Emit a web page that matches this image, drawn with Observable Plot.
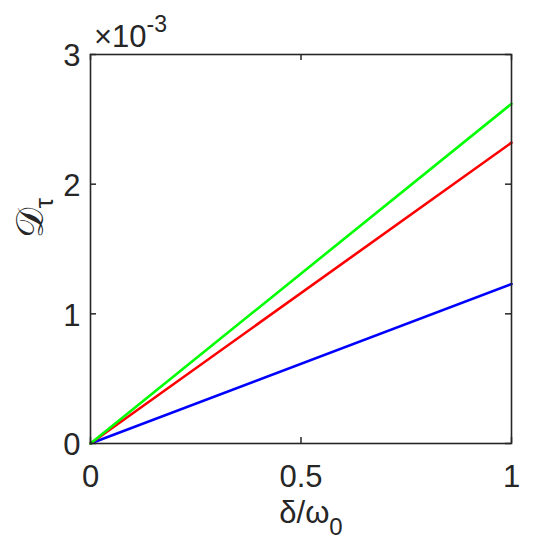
<!DOCTYPE html>
<html>
<head>
<meta charset="utf-8">
<script src="https://cdn.jsdelivr.net/npm/d3@7"></script>
<script src="https://cdn.jsdelivr.net/npm/@observablehq/plot@0.6"></script>
<style>
  body { margin: 0; background: #fff; }
  #chart svg { display: block; }
</style>
</head>
<body>
<div id="chart"></div>
<script>
// x: δ/ω0 ; y: D_τ
const xVals = [0, 1];
const blueVals = [0, 0.00123];
const redVals = [0, 0.00232];
const greenVals = [0, 0.00262];
const seriesNames = ["s1", "s2", "s3"];
const seriesColors = ["#0000ff", "#ff0000", "#00ff00"];
const xTicks = [0, 0.5, 1];
const xTickLabels = ["0", "0.5", "1"];
const yTicks = [0, 0.001, 0.002, 0.003];
const yTickLabels = ["0", "1", "2", "3"];

const seriesVals = [blueVals, redVals, greenVals];
const rows = [];
seriesNames.forEach((s, i) => xVals.forEach((x, j) => rows.push({series: s, x, y: seriesVals[i][j]})));

const W = 536, H = 550;
const mL = 90, mR = 25, mT = 54, mB = 107;
const innerH = H - mT - mB, innerW = W - mL - mR;
const tl = 6;
const font = "Liberation Sans, Arial, sans-serif";
const ink = "#262626";

const plot = Plot.plot({
  width: W, height: H,
  marginLeft: mL, marginRight: mR, marginTop: mT, marginBottom: mB,
  style: {fontFamily: font, fontSize: "31px", color: ink, background: "#fff"},
  x: {domain: [0, 1], label: null},
  y: {domain: [0, 0.003], label: null},
  color: {domain: seriesNames, range: seriesColors},
  marks: [
    Plot.axisX(xTicks, {anchor: "bottom", tickSize: 0, tickPadding: 21, tickFormat: (d) => xTickLabels[xTicks.indexOf(d)], fontSize: 31, fill: ink}),
    Plot.axisY(yTicks, {anchor: "left", tickSize: 0, tickPadding: 10, tickFormat: (d) => yTickLabels[yTicks.indexOf(d)], fontSize: 31, fill: ink, dy: 2}),
    Plot.lineY(rows, {x: "x", y: "y", stroke: "series", strokeWidth: 2.6}),
    Plot.tickX(xTicks, {x: d => d, insetTop: innerH - tl, stroke: ink, strokeWidth: 1.5}),
    Plot.tickX(xTicks, {x: d => d, insetBottom: innerH - tl, stroke: ink, strokeWidth: 1.5}),
    Plot.tickY(yTicks, {y: d => d, insetRight: innerW - tl, stroke: ink, strokeWidth: 1.5}),
    Plot.tickY(yTicks, {y: d => d, insetLeft: innerW - tl, stroke: ink, strokeWidth: 1.5}),
    Plot.frame({stroke: ink, strokeWidth: 1.6})
  ]
});

const svg = d3.select(plot);
// exponent label
const ex = svg.append("text")
  .attr("x", 94).attr("y", 47)
  .style("text-anchor", "start")
  .style("font-family", font).style("font-size", "31px").style("fill", ink);
ex.append("tspan").text("×10");
ex.append("tspan").attr("dy", -15).style("font-size", "23px").text("-3");

// x label
const xl = svg.append("text")
  .attr("x", 311).attr("y", 523)
  .style("text-anchor", "middle")
  .style("font-family", font).style("font-size", "31px").style("fill", ink);
xl.append("tspan").text("δ/ω");
xl.append("tspan").attr("dy", 12).style("font-size", "24px").text("0");

// y label
const yl = svg.append("text")
  .attr("transform", "translate(43,218) rotate(-90)")
  .style("text-anchor", "middle")
  .style("fill", ink);
yl.append("tspan").style("font-family", "DejaVu Serif, serif").style("font-size", "38px").text("𝒟");
yl.append("tspan").attr("dy", 10).style("font-family", font).style("font-size", "26px").text("τ");

document.getElementById("chart").appendChild(plot);
</script>
</body>
</html>
